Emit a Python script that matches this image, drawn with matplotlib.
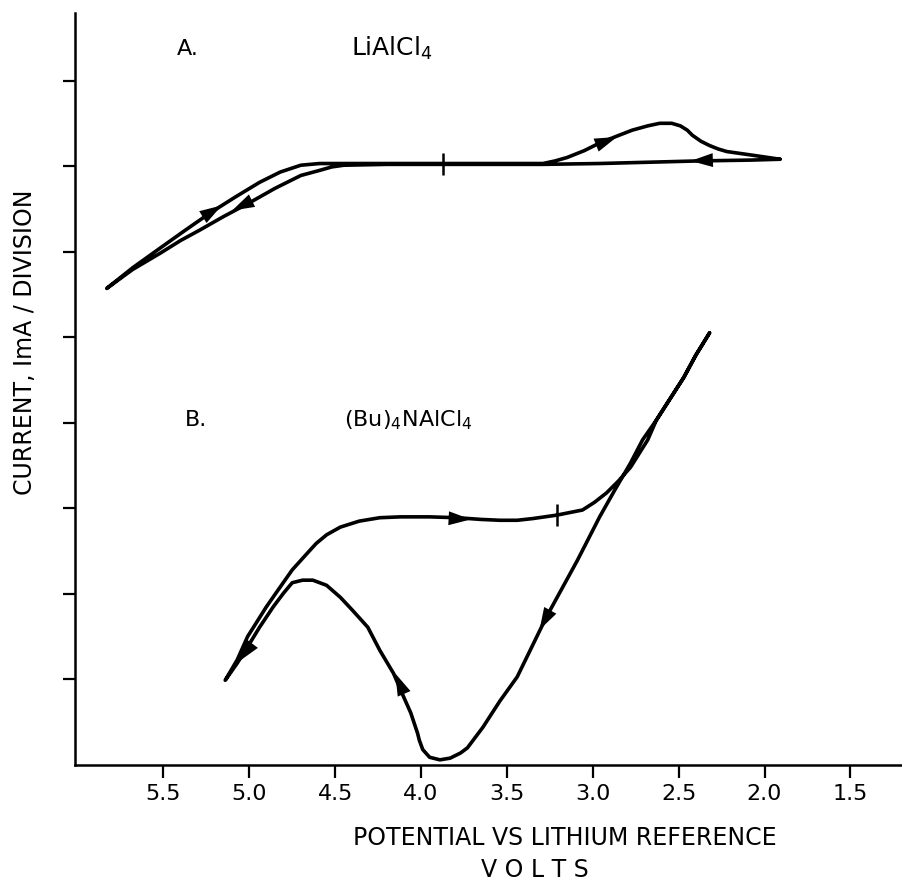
import numpy as np
import matplotlib.pyplot as plt

# curva A: LiAlCl4 (volts, divisoes de corrente), na ordem da varredura
va = [1.91, 2.08, 2.39, 2.96, 3.29, 3.87, 4.20, 4.45, 4.52, 4.59, 4.70, 4.85, 5.00, 5.15, 5.29, 5.40,
      5.52, 5.68, 5.83,
      5.68, 5.52, 5.38, 5.23, 5.08, 4.94, 4.82, 4.70, 4.59, 4.40, 3.87, 3.29, 3.22, 3.15, 3.05,
      2.96, 2.86, 2.77, 2.68, 2.61, 2.54, 2.49, 2.45, 2.42, 2.37, 2.32, 2.27, 2.22, 2.15, 2.08, 1.91]
ia = [7.08, 7.07, 7.06, 7.03, 7.02, 7.02, 7.02, 7.01, 6.99, 6.95, 6.89, 6.74, 6.57, 6.41, 6.25, 6.13,
      5.98, 5.79, 5.57,
      5.81, 6.04, 6.24, 6.45, 6.64, 6.81, 6.93, 7.01, 7.03, 7.03, 7.03, 7.03, 7.06, 7.10, 7.18,
      7.27, 7.35, 7.42, 7.47, 7.50, 7.50, 7.47, 7.42, 7.36, 7.29, 7.24, 7.20, 7.17, 7.15, 7.13, 7.08]

# curva B: (Bu)4NAlCl4
vb = [3.21, 3.06, 2.99, 2.92, 2.85, 2.78, 2.73, 2.68, 2.63, 2.55, 2.47, 2.40, 2.32,
      2.40, 2.47, 2.55, 2.63, 2.71, 2.78, 2.87, 2.96, 3.09, 3.18, 3.27, 3.35, 3.44, 3.54, 3.64,
      3.73, 3.77, 3.83, 3.89, 3.95, 3.99, 4.01, 4.02, 4.06, 4.10, 4.16, 4.24, 4.31, 4.40, 4.47,
      4.55, 4.63, 4.69, 4.75, 4.80, 4.86, 4.94, 5.01, 5.07, 5.14,
      5.07, 5.01, 4.90, 4.82, 4.75, 4.66, 4.61, 4.55, 4.47, 4.36, 4.24, 4.12, 3.95, 3.79, 3.65,
      3.54, 3.44, 3.35, 3.21]
ib = [2.92, 2.98, 3.07, 3.18, 3.32, 3.48, 3.64, 3.80, 4.03, 4.28, 4.53, 4.79, 5.05,
      4.79, 4.53, 4.28, 4.03, 3.80, 3.53, 3.22, 2.90, 2.39, 2.06, 1.73, 1.40, 1.03, 0.75, 0.44,
      0.20, 0.14, 0.08, 0.06, 0.09, 0.18, 0.29, 0.37, 0.61, 0.79, 1.07, 1.34, 1.61, 1.81, 1.96,
      2.10, 2.16, 2.16, 2.13, 2.01, 1.85, 1.61, 1.38, 1.19, 0.99,
      1.23, 1.50, 1.85, 2.08, 2.28, 2.48, 2.59, 2.69, 2.78, 2.85, 2.89, 2.90, 2.90, 2.89, 2.87,
      2.86, 2.86, 2.88, 2.92]

# setas (ponta, cauda) em volts / divisoes
setas_a = [((2.43, 7.06), (2.30, 7.07)),
           ((2.86, 7.34), (3.00, 7.23)),
           ((5.10, 6.48), (4.92, 6.66)),
           ((5.16, 6.54), (5.33, 6.33))]
setas_b = [((3.71, 2.87), (3.90, 2.89)),
           ((3.31, 1.58), (3.20, 1.98)),
           ((4.15, 1.07), (4.07, 0.70)),
           ((5.06, 1.21), (4.97, 1.45))]

# marcas de inicio da varredura
inicio_v = [3.87, 3.21]
inicio_i = [7.02, 2.92]

xticks = [5.5, 5.0, 4.5, 4.0, 3.5, 3.0, 2.5, 2.0, 1.5]
xticklabels = ['5.5', '5.0', '4.5', '4.0', '3.5', '3.0', '2.5', '2.0', '1.5']
yticks = [1, 2, 3, 4, 5, 6, 7, 8]

fig = plt.figure(figsize=(9.02, 8.86), dpi=100)
ax = fig.add_axes([0.0831, 0.1366, 0.917, 0.8488])

ax.plot(va, ia, color='black', lw=2.6, solid_capstyle='round', solid_joinstyle='round')
ax.plot(vb, ib, color='black', lw=2.6, solid_capstyle='round', solid_joinstyle='round')
ax.plot(inicio_v, inicio_i, ls='none', marker='|', color='black', ms=16, mew=1.8)

for ponta, cauda in setas_a + setas_b:
    ax.annotate('', xy=ponta, xytext=cauda,
                arrowprops=dict(arrowstyle='-|>,head_length=0.8,head_width=0.25',
                                mutation_scale=20, color='black', lw=0, shrinkA=0, shrinkB=0))

ax.text(5.36, 8.37, 'A.', fontsize=16, ha='center', va='center')
ax.text(4.41, 8.38, 'LiAlCl$_4$', fontsize=18, ha='left', va='center')
ax.text(5.31, 4.03, 'B.', fontsize=16, ha='center', va='center')
ax.text(4.45, 4.03, '(Bu)$_4$NAlCl$_4$', fontsize=16, ha='left', va='center')

ax.set_xlim(6.015, 1.199)
ax.set_ylim(0, 8.79)
ax.set_xticks(xticks)
ax.set_xticklabels(xticklabels)
ax.set_yticks(yticks)
ax.set_yticklabels([])
ax.tick_params(direction='out', length=9, width=1.6, labelsize=16, pad=5)
for s in ['top', 'right']:
    ax.spines[s].set_visible(False)
for s in ['left', 'bottom']:
    ax.spines[s].set_linewidth(1.8)

fig.text(0.626, 0.054, 'POTENTIAL VS LITHIUM REFERENCE', fontsize=17, ha='center', va='center')
fig.text(0.593, 0.018, 'V O L T S', fontsize=17, ha='center', va='center')
fig.text(0.028, 0.614, 'CURRENT, ImA / DIVISION', fontsize=17, ha='center', va='center', rotation=90)

fig.savefig('out.png', dpi=100)
